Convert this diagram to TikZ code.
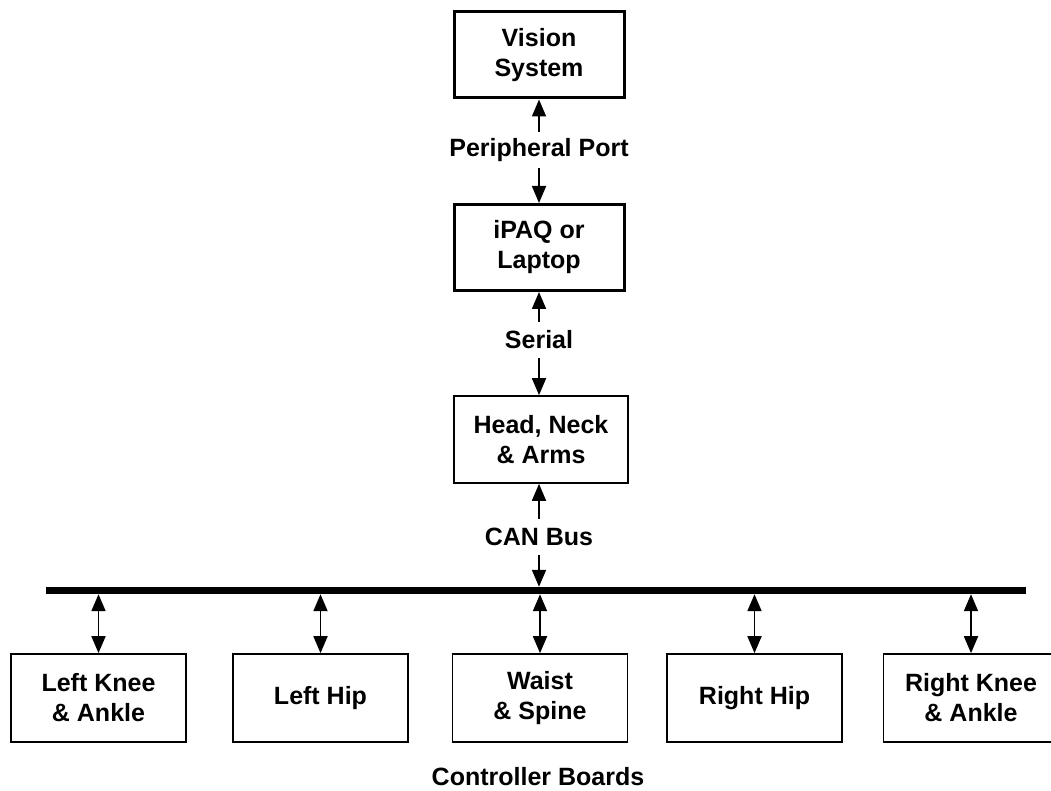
\documentclass[tikz,border=0pt]{standalone}
\usepackage{fontspec}
\setmainfont{Liberation Sans}
\usetikzlibrary{arrows.meta}

\begin{document}
\begin{tikzpicture}[x=1pt,y=-1pt,
  every node/.style={font=\bfseries\fontsize{25}{30}\selectfont, align=center},
  heavybox/.style={draw, line width=3pt, minimum width=170pt, minimum height=86pt, inner sep=0pt},
  board/.style={draw, line width=1.7pt, minimum width=175pt, minimum height=88pt, inner sep=0pt},
  linklabel/.style={inner sep=0pt, minimum height=36pt},
  tip/.style={Triangle[length=17pt,width=14pt]},
  link/.style={line width=1.8pt, -{Triangle[length=17pt,width=14pt]}},
  duplex/.style={line width=1.8pt, {Triangle[length=17pt,width=14pt]}-{Triangle[length=17pt,width=14pt]}}
]
\useasboundingbox (0,0) rectangle (1051,791);

% upper chain of units
\node[heavybox] (vision) at (539,55) {Vision\\System};
\node[linklabel] (port) at (539,150) {Peripheral Port};
\node[heavybox] (ipaq) at (539,247.5) {iPAQ or\\Laptop};
\node[linklabel] (serial) at (539,340) {Serial};
\node[board, minimum width=174pt, minimum height=87pt] (head) at (541,439.5) {Head, Neck\\\& Arms};
\node[linklabel] (can) at (539,537) {CAN Bus};

% CAN bus bar
\node[fill=black, inner sep=0pt, minimum width=980pt, minimum height=7pt] (bus) at (536,590.5) {};

% controller boards
\node[board] (lknee) at (98.5,698) {Left Knee\\\& Ankle};
\node[board] (lhip) at (320.5,698) {Left Hip};
\node[board] (waist) at (540,698) {Waist\\\& Spine};
\node[board] (rhip) at (754.5,698) {Right Hip};
\node[board] (rknee) at (971,698) {Right Knee\\\& Ankle};
\node[inner sep=0pt] (caption) at (538,777) {Controller Boards};

% links between units
\draw[link] (port.north -| vision.south) -- (vision.south);
\draw[link] (port.south -| ipaq.north) -- (ipaq.north);
\draw[link] (serial.north -| ipaq.south) -- (ipaq.south);
\draw[link] (serial.south -| ipaq.north) -- (ipaq.north |- head.north);
\draw[link] (can.north -| ipaq.south) -- (ipaq.south |- head.south);
\draw[link] (can.south -| ipaq.north) -- (ipaq.north |- bus.north);

% bus drops to each board
\foreach \b in {lknee,lhip,waist,rhip,rknee}
  \draw[duplex] (\b.north |- bus.south) -- (\b.north);
\end{tikzpicture}
\end{document}
